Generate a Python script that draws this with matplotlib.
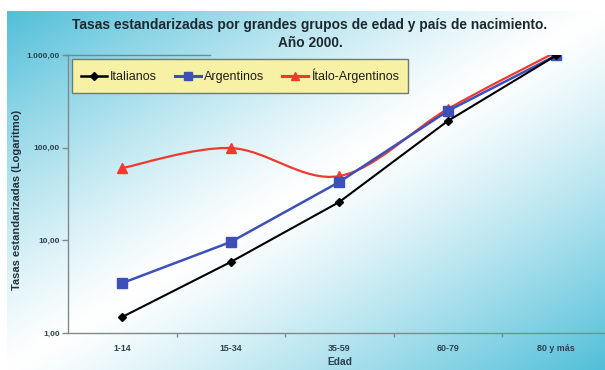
import numpy as np
import matplotlib
matplotlib.use("Agg")
import matplotlib.pyplot as plt
from matplotlib.path import Path
from matplotlib.patches import PathPatch
from matplotlib.lines import Line2D
from matplotlib.ticker import FixedLocator, FixedFormatter, NullLocator

plt.rcParams['font.family'] = ['Liberation Sans', 'DejaVu Sans']

# --- data -------------------------------------------------------------
age_groups = ["1-14", "15-34", "35-59", "60-79", "80 y más"]
italianos = [1.49, 5.84, 25.9, 194, 990]
argentinos = [3.46, 9.6, 42.6, 249, 990]
italo_argentinos = [60.3, 99, 49.4, 261, 1080]
y_ticks = [1, 10, 100, 1000]
y_tick_labels = ["1,00", "10,00", "100,00", "1.000,00"]

W, H = 605, 370
fig = plt.figure(figsize=(W / 100, H / 100), dpi=100)
fig.patch.set_facecolor("white")

# --- diagonal gradient background --------------------------------------
bx0, by_top = 7, 11
bg = fig.add_axes([bx0 / W, 0, 1 - bx0 / W, (H - by_top) / H])
bg.set_axis_off()
nx, ny = 300, 180
u = np.linspace(0, 1, nx)[None, :]
v = np.linspace(0, 1, ny)[:, None]
t = (u + v) / 2.0
k = np.abs(2 * t - 1) ** 1.2
teal = np.array([0.32, 0.75, 0.85])
white = np.array([1.0, 1.0, 1.0])
img = white[None, None, :] * (1 - k[..., None]) + teal[None, None, :] * k[..., None]
bg.imshow(img, aspect="auto", extent=(0, 1, 0, 1), origin="upper", interpolation="bilinear")
bg.set_xlim(0, 1)
bg.set_ylim(0, 1)

# --- plot area ---------------------------------------------------------
left_px, right_px, top_px, bottom_px = 68, 610.5, 55, 333
ax = fig.add_axes([left_px / W, (H - bottom_px) / H,
                   (right_px - left_px) / W, (bottom_px - top_px) / H])
ax.patch.set_alpha(0)
ax.set_yscale("log")
ax.set_ylim(1, 1000)
ax.set_xlim(-0.5, len(age_groups) - 0.5)

x = np.arange(len(age_groups))

c_black = "#000000"
c_blue = "#3d4fb8"
c_red = "#f03a2e"


def smooth_path(xs, ys):
    """Bezier path through the points in (x, log10 y) space, Excel-style smoothing."""
    lx = np.asarray(xs, float)
    ly = np.log10(np.asarray(ys, float))
    pts = np.column_stack([lx, ly])
    n = len(pts)
    verts = [pts[0]]
    codes = [Path.MOVETO]
    for i in range(n - 1):
        p_prev = pts[i - 1] if i > 0 else pts[i]
        p_next2 = pts[i + 2] if i + 2 < n else pts[i + 1]
        c1 = pts[i] + (pts[i + 1] - p_prev) / 6.0
        c2 = pts[i + 1] - (p_next2 - pts[i]) / 6.0
        verts += [c1, c2, pts[i + 1]]
        codes += [Path.CURVE4] * 3
    verts = np.array(verts)
    verts[:, 1] = 10 ** verts[:, 1]
    return Path(verts, codes)


# Ítalo-Argentinos: smoothed line
ax.add_patch(PathPatch(smooth_path(x, italo_argentinos), facecolor="none",
                       edgecolor=c_red, lw=1.6, zorder=3))
ax.plot(x, italo_argentinos, linestyle="none", marker="^", ms=7,
        color=c_red, zorder=3)
ax.plot(x, argentinos, color=c_blue, lw=1.8, marker="s", ms=6.5, zorder=4)
ax.plot(x, italianos, color=c_black, lw=1.5, marker="D", ms=4.2, zorder=5)

# axes styling
axis_col = "#7f8a8c"
for s in ["top", "right"]:
    ax.spines[s].set_visible(False)
for s in ["left", "bottom"]:
    ax.spines[s].set_color(axis_col)
    ax.spines[s].set_linewidth(1.0)

# short rule at the top value
ax.plot([-3 / (right_px - left_px), (210 - left_px) / (right_px - left_px)], [1, 1],
        transform=ax.transAxes, color="#5f8f96", lw=1.0, clip_on=False, zorder=2)

lab_col = "#2a4450"
ax.yaxis.set_major_locator(FixedLocator(y_ticks))
ax.yaxis.set_major_formatter(FixedFormatter(y_tick_labels))
ax.yaxis.set_minor_locator(NullLocator())
ax.tick_params(axis="y", which="major", length=4, width=1, color=axis_col,
               labelsize=6.0, labelcolor=lab_col, pad=2)
for lbl in ax.get_yticklabels():
    lbl.set_fontweight("bold")

ax.set_xticks(x)
ax.set_xticklabels(age_groups, fontsize=6.4, fontweight="bold", color=lab_col)
ax.set_xticks(x[:-1] + 0.5, minor=True)
ax.tick_params(axis="x", which="major", length=0, pad=8)
ax.tick_params(axis="x", which="minor", length=3, width=1, color=axis_col)

# axis titles
fig.text(340 / W, 1 - 362 / H, "Edad", ha="center", va="center",
         fontsize=7.4, fontweight="bold", color=lab_col)
fig.text(17 / W, 1 - 200 / H, "Tasas estandarizadas (Logaritmo)", rotation=90,
         ha="center", va="center", fontsize=8.0, fontweight="bold", color="#24333a")

# chart title
fig.text(310 / W, 1 - 25 / H,
         "Tasas estandarizadas por grandes grupos de edad y país de nacimiento.",
         ha="center", va="center", fontsize=9.9, fontweight="bold", color="#1c2a30")
fig.text(310 / W, 1 - 43 / H, "Año 2000.", ha="center", va="center",
         fontsize=9.9, fontweight="bold", color="#1c2a30")

# legend
handles = [
    Line2D([], [], color=c_black, lw=1.8, marker="D", ms=4),
    Line2D([], [], color=c_blue, lw=2.2, marker="s", ms=6),
    Line2D([], [], color=c_red, lw=2.2, marker="^", ms=6),
]
leg = fig.legend(handles, ["Italianos", "Argentinos", "Ítalo-Argentinos"],
                 loc="center", bbox_to_anchor=((73 + 407) / 2 / W, 1 - 76 / H),
                 ncol=3, fontsize=9.0, frameon=True, fancybox=False,
                 handlelength=2.1, handletextpad=0.2, columnspacing=1.45,
                 borderpad=0.75, borderaxespad=0)
frame = leg.get_frame()
frame.set_facecolor("#f6f1a4")
frame.set_edgecolor("#6f7a70")
frame.set_linewidth(1.0)
frame.set_alpha(1)
for txt in leg.get_texts():
    txt.set_color("#1f1f1f")

fig.savefig("out.png", dpi=100)
